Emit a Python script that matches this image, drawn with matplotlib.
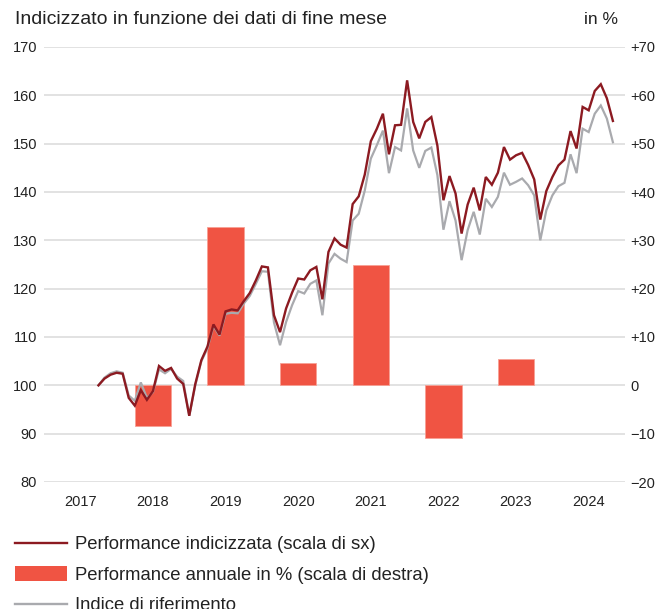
import numpy as np
import pandas as pd
from matplotlib import pyplot as plt
from matplotlib.lines import Line2D
from matplotlib.patches import Patch

plt.rcParams['font.family'] = ['Liberation Sans', 'DejaVu Sans']

# valori di fine mese, da fine settembre 2017 a fine ottobre 2024
perf_indicizzata = [100.0, 101.4, 102.2, 102.6, 102.4, 97.4, 95.8, 99.0, 97.0, 98.8,
                    104.0, 103.0, 103.6, 101.4, 100.3, 93.7, 100.3, 105.2, 108.0, 112.6,
                    110.5, 115.3, 115.7, 115.5, 117.4, 119.1, 121.7, 124.6, 124.4, 114.5,
                    111.0, 115.9, 119.2, 122.1, 121.9, 123.8, 124.5, 117.8, 127.6, 130.4,
                    129.1, 128.5, 137.5, 139.1, 143.6, 150.5, 153.1, 156.2, 147.8, 153.8,
                    153.9, 163.1, 154.5, 151.1, 154.5, 155.5, 149.6, 138.3, 143.3, 139.7,
                    131.4, 137.4, 140.9, 136.2, 143.1, 141.5, 144.0, 149.3, 146.7, 147.6,
                    148.1, 145.6, 142.6, 134.3, 140.2, 143.1, 145.5, 146.7, 152.6, 149.0,
                    157.6, 156.9, 160.9, 162.3, 159.4, 154.7]
indice_rif = [100.0, 101.6, 102.5, 102.9, 102.6, 97.9, 96.8, 100.6, 97.4, 98.6,
              103.3, 102.5, 103.4, 101.8, 100.9, 93.7, 100.0, 105.0, 107.6, 112.3,
              110.3, 114.8, 115.0, 114.9, 116.9, 118.5, 121.0, 123.6, 123.5, 113.0,
              108.3, 113.1, 116.6, 119.5, 119.0, 121.0, 121.7, 114.5, 125.2, 127.2,
              126.2, 125.5, 134.1, 135.5, 140.3, 146.9, 149.7, 152.7, 143.9, 149.3,
              148.6, 157.3, 148.6, 145.0, 148.5, 149.2, 143.5, 132.2, 138.1, 134.1,
              125.9, 132.1, 135.9, 131.2, 138.6, 136.9, 139.0, 144.0, 141.5, 142.1,
              142.8, 141.4, 139.3, 130.0, 136.2, 139.3, 141.2, 141.9, 147.8, 143.9,
              153.1, 152.4, 156.2, 157.9, 155.2, 150.3]

bar_years = [2018, 2019, 2020, 2021, 2022, 2023]
perf_annuale = [-8.5, 32.7, 4.6, 24.8, -10.8, 5.4]

year_labels = [2017, 2018, 2019, 2020, 2021, 2022, 2023, 2024]
left_ticks = [80, 90, 100, 110, 120, 130, 140, 150, 160, 170]
right_ticks = [-20, -10, 0, 10, 20, 30, 40, 50, 60, 70]

dates = pd.date_range('2017-09-30', periods=len(perf_indicizzata), freq='ME')
x = dates.year + dates.month / 12

RED = '#8c1a21'
BAR = '#f05443'
GREY = '#a9aaae'
TXT = '#222222'

fig = plt.figure(figsize=(6.61, 6.09), dpi=100)
ax = fig.add_axes([44 / 661, 1 - 482 / 609, 581 / 661, 435 / 609])

# asse principale: barre in % (scala di destra)
ax.set_ylim(-20, 70)
ax.set_xlim(2017, 2025)
ax.grid(axis='y', color='#dddddd', linewidth=1.2)
ax.set_axisbelow(True)
ax.bar([y + 0.5 for y in bar_years], perf_annuale, width=0.5, color=BAR,
       edgecolor='#f7a095', linewidth=0.6, zorder=2)

ax.set_xticks([y + 0.5 for y in year_labels])
ax.set_xticklabels([str(y) for y in year_labels])
ax.tick_params(axis='x', length=0, pad=9, labelsize=10.5, labelcolor=TXT)
for s in ax.spines.values():
    s.set_visible(False)

# asse secondario: linee indicizzate (scala di sinistra)
ax2 = ax.twinx()
ax2.set_ylim(80, 170)
ax2.set_yticks(left_ticks)
ax2.yaxis.tick_left()
ax2.tick_params(axis='y', length=0, pad=5, labelsize=10.5, labelcolor=TXT,
                labelleft=True, labelright=False)
for s in ax2.spines.values():
    s.set_visible(False)
ax2.plot(x, indice_rif, color=GREY, linewidth=1.6, solid_joinstyle='miter')
ax2.plot(x, perf_indicizzata, color=RED, linewidth=1.7, solid_joinstyle='miter')

# etichette di destra sull'asse delle barre (dopo twinx)
ax.set_yticks(right_ticks)
ax.set_yticklabels(['\u2212' + str(-v) if v < 0 else ('+' + str(v) if v > 0 else '0')
                    for v in right_ticks])
ax.yaxis.tick_right()
ax.tick_params(axis='y', length=0, pad=4, labelsize=10.5, labelcolor=TXT,
               labelleft=False, labelright=True)

fig.text(15 / 661, 1 - 19 / 609, 'Indicizzato in funzione dei dati di fine mese',
         fontsize=14, color=TXT, va='center', ha='left')
fig.text(618 / 661, 1 - 19 / 609, 'in %', fontsize=12.5, color=TXT, va='center', ha='right')

handles = [Line2D([], [], color=RED, linewidth=1.7),
           Patch(facecolor=BAR, edgecolor='none'),
           Line2D([], [], color=GREY, linewidth=1.7)]
labels = ['Performance indicizzata (scala di sx)',
          'Performance annuale in % (scala di destra)',
          'Indice di riferimento']
fig.legend(handles, labels, loc='upper left', bbox_to_anchor=(15 / 661, 1 - 536 / 609),
           frameon=False, fontsize=13.3, handlelength=2.8, handleheight=0.8,
           handletextpad=0.45, labelspacing=0.7, borderpad=0, borderaxespad=0,
           labelcolor=TXT)

fig.savefig('out.png', dpi=100)
